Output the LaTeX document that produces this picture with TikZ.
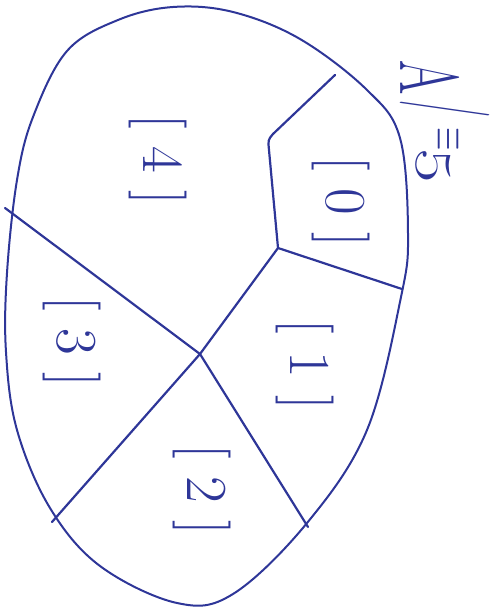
\documentclass[tikz,border=0pt]{standalone}
\usepackage{graphicx}
\usepackage{unicode-math}
\setmathfont{Latin Modern Math}
\definecolor{pen}{RGB}{46,54,152}
\begin{document}
\begin{tikzpicture}[x=1pt,y=-1pt,
  pen/.style={draw=pen,line width=2.2pt,line cap=round,line join=round},
  lbl/.style={text=pen,rotate=-90,font=\fontsize{58}{58}\selectfont,inner sep=0pt},
  ttl/.style={text=pen,rotate=-90,font=\fontsize{62}{62}\selectfont,inner sep=0pt,anchor=base west}]
\useasboundingbox (0,0) rectangle (499,615);
% outline
\draw[pen,line width=2pt] plot[smooth cycle,tension=0.6] coordinates
 {(173,7) (233,12) (300,39) (367,90) (400,138) (408,234) (401,297) (367,430)
  (307,523) (233,594) (177,603) (100,566) (50,508) (17,430) (6,352) (7,273)
  (17,180) (33,117) (67,51) (118,20)};
% junctions and free ends
\coordinate (J1) at (278,248);
\coordinate (J2) at (200,354);
\coordinate (E0) at (335,75);
\coordinate (E1) at (402,289);
\coordinate (E2) at (308,527);
\coordinate (E3) at (52,522);
\coordinate (E4) at (5,208);
\coordinate (K0) at (273,134);
\coordinate (K1) at (269,150);
% dividers
\draw[pen] (E0) -- (K0) .. controls (268,140) .. (K1) -- (J1);
\draw[pen] (J1) -- (E1);
\draw[pen] (J1) -- (J2);
\draw[pen] (J2) -- (E2);
\draw[pen] (J2) -- (E3);
\draw[pen] (E4) -- (J2);
% labels
\node[lbl] (l0) at (341,202) {[\kern0.3em0\kern0.3em]};
\node[lbl] (l1) at (305,365) {[\kern0.3em1\kern0.3em]};
\node[lbl] (l2) at (202,490) {[\kern0.3em2\kern0.3em]};
\node[lbl] (l3) at (72,342) {[\kern0.3em3\kern0.3em]};
\node[lbl] (l4) at (158,160) {[\kern0.3em4\kern0.3em]};
\node[ttl] (title) at (400,60) {\scalebox{0.8}[1.35]{A}\kern6pt\raisebox{22pt}{\scalebox{0.6}[1.45]{/}}\kern10pt\raisebox{36pt}{\fontsize{30}{30}\selectfont\scalebox{1}[1.6]{$\equiv$}}\kern-2pt\raisebox{16pt}{\fontsize{52}{52}\selectfont\scalebox{1.45}[1]{5}}};
\end{tikzpicture}
\end{document}
